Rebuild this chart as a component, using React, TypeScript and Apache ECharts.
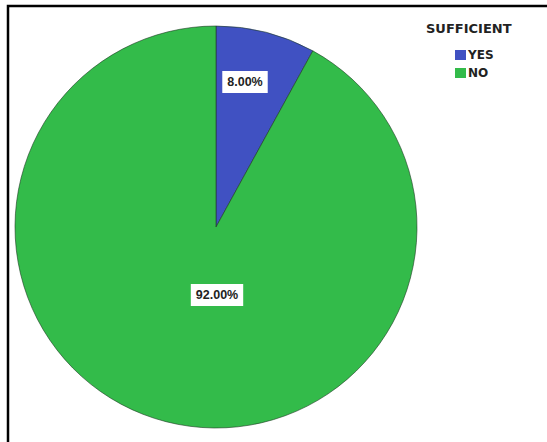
import React, { useEffect, useRef } from "react";
import * as echarts from "echarts";

const categories = ["YES", "NO"];
const values = [8.0, 92.0];
const colors = ["#4051c2", "#33bb4a"];
const legendTitle = "SUFFICIENT";

export default function App() {
  const ref = useRef<HTMLDivElement>(null);
  useEffect(() => {
    if (!ref.current) return;
    const chart = echarts.init(ref.current, null, { renderer: "svg" });
    const labelPos = [
      [245, 82],
      [217, 295],
    ];
    chart.setOption({
      animation: false,
      backgroundColor: "#ffffff",
      title: {
        text: legendTitle,
        left: 426,
        top: 22,
        padding: 0,
        textStyle: {
          fontFamily: "DejaVu Sans, sans-serif",
          fontSize: 13,
          fontWeight: "bold",
          color: "#222",
        },
      },
      legend: {
        orient: "vertical",
        left: 450,
        top: 44,
        itemWidth: 11,
        itemHeight: 10,
        itemGap: 6,
        icon: "rect",
        data: categories,
        itemStyle: { borderWidth: 0 },
        textStyle: {
          fontFamily: "DejaVu Sans, sans-serif",
          fontSize: 12,
          fontWeight: "bold",
          color: "#222",
          padding: [0, 0, 0, -3],
        },
      },
      graphic: [
        {
          type: "rect",
          shape: { x: 8, y: 6, width: 600, height: 500 },
          style: { fill: "none", stroke: "#000", lineWidth: 2.5 },
          silent: true,
        },
      ],
      series: [
        {
          type: "pie",
          center: [216, 227],
          radius: [0, 201],
          startAngle: 90,
          clockwise: true,
          label: {
            show: true,
            position: "inside",
            formatter: (p: any) => p.value.toFixed(2) + "%",
            fontFamily: "Liberation Sans, Arial, sans-serif",
            fontSize: 12.5,
            fontWeight: "bold",
            color: "#222",
            backgroundColor: "#ffffff",
            padding: [5, 5, 4, 5],
          },
          labelLayout: (params: any) => ({
            x: labelPos[params.dataIndex][0],
            y: labelPos[params.dataIndex][1],
            align: "center",
            verticalAlign: "middle",
          }),
          labelLine: { show: false },
          itemStyle: { borderColor: "#1f3a24", borderWidth: 0.6 },
          emphasis: { disabled: true },
          data: categories.map((c, i) => ({
            name: c,
            value: values[i],
            itemStyle: { color: colors[i] },
          })),
        },
      ],
    });
    return () => chart.dispose();
  }, []);
  return (
    <div
      ref={ref}
      style={{ position: "absolute", left: 0, top: 0, width: 547, height: 442 }}
    />
  );
}
